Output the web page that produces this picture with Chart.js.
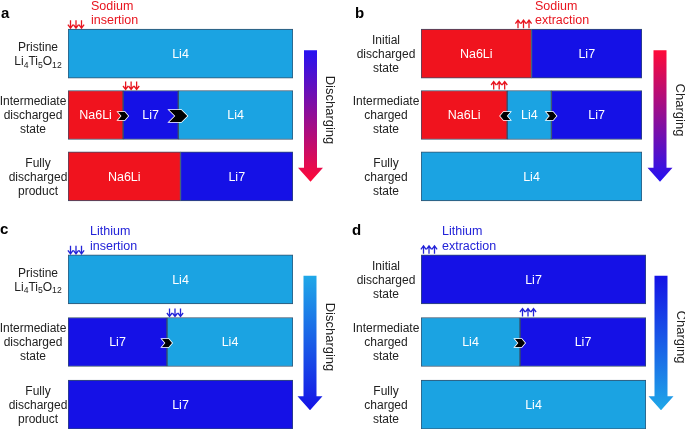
<!DOCTYPE html>
<html>
<head>
<meta charset="utf-8">
<script src="https://cdn.jsdelivr.net/npm/chart.js@4"></script>
<style>
  html, body { margin: 0; padding: 0; background: #fff; overflow: hidden; }
  canvas { position: absolute; }
</style>
</head>
<body>
<canvas id="panelA" width="342" height="214" style="left:0;top:0"></canvas>
<canvas id="panelB" width="343" height="214" style="left:342px;top:0"></canvas>
<canvas id="panelC" width="342" height="222" style="left:0;top:214px"></canvas>
<canvas id="panelD" width="343" height="222" style="left:342px;top:214px"></canvas>
<script>
// row labels ({n} = subscript)
const rowsA = [['Pristine', 'Li{4}Ti{5}O{12}'], ['Intermediate', 'discharged', 'state'], ['Fully', 'discharged', 'product']];
const rowsB = [['Initial', 'discharged', 'state'], ['Intermediate', 'charged', 'state'], ['Fully', 'charged', 'state']];
const rowsC = rowsA;
const rowsD = rowsB;

// phase fractions along each bar, left to right
const na6liA = [0, 0.245, 0.5];
const li7A = [0, 0.245, 0.5];
const li4A = [1, 0.51, 0];

const na6liB = [0.5, 0.39, 0];
const li4B = [0, 0.2, 1];
const li7B = [0.5, 0.41, 0];

const li7C = [0, 0.44, 1];
const li4C = [1, 0.56, 0];

const li4D = [0, 0.44, 1];
const li7D = [1, 0.56, 0];

const FONT = "'Liberation Sans', Arial, sans-serif";
const colors = { Na6Li: '#f0131e', Li7: '#1511e6', Li4: '#1ba3e2' };

function ds(label, data) {
  return {
    label: label,
    data: data,
    backgroundColor: colors[label],
    borderColor: '#35506b',
    borderWidth: 1,
    borderSkipped: false,
    barThickness: 49,
  };
}

function drawRichLine(ctx, text, cx, y, size) {
  const parts = [];
  text.split(/(\{[^}]*\})/).forEach(p => {
    if (!p) return;
    if (p[0] === '{') parts.push({ t: p.slice(1, -1), sub: true });
    else parts.push({ t: p, sub: false });
  });
  let w = 0;
  parts.forEach(p => {
    ctx.font = (p.sub ? size * 0.72 : size) + 'px ' + FONT;
    p.w = ctx.measureText(p.t).width;
    w += p.w;
  });
  let x = cx - w / 2;
  ctx.textAlign = 'left';
  parts.forEach(p => {
    ctx.font = (p.sub ? size * 0.72 : size) + 'px ' + FONT;
    ctx.fillText(p.t, x, p.sub ? y + size * 0.3 : y);
    x += p.w;
  });
}

function boundaryX(chart, row, after) {
  let s = 0;
  for (let i = 0; i <= after; i++) s += chart.data.datasets[i].data[row];
  return chart.scales.x.getPixelForValue(s);
}

function barBox(chart, row) {
  const el = chart.getDatasetMeta(0).data[row];
  return { top: el.y - 24.5, bottom: el.y + 24.5, y: el.y };
}

function chevron(ctx, cx, cy, w, h, dir) {
  ctx.save();
  ctx.translate(cx, cy);
  if (dir === 'left') ctx.scale(-1, 1);
  ctx.beginPath();
  ctx.moveTo(-w / 2, -h / 2);
  ctx.lineTo(w / 6, -h / 2);
  ctx.lineTo(w / 2, 0);
  ctx.lineTo(w / 6, h / 2);
  ctx.lineTo(-w / 2, h / 2);
  ctx.lineTo(-w / 6, 0);
  ctx.closePath();
  ctx.fillStyle = '#000';
  ctx.strokeStyle = '#fff';
  ctx.lineWidth = 1.6;
  ctx.lineJoin = 'miter';
  ctx.stroke();
  ctx.fill();
  ctx.restore();
}

function tinyArrows(ctx, x0, edgeY, side, dir, color) {
  ctx.save();
  ctx.strokeStyle = color;
  ctx.lineWidth = 1.3;
  for (let k = 0; k < 3; k++) {
    const x = side === 'right' ? x0 + 2.5 + k * 5.5 : x0 - 2.5 - k * 5.5;
    const a = edgeY - 1, b = edgeY - 9;
    ctx.beginPath();
    ctx.moveTo(x, a);
    ctx.lineTo(x, b);
    if (dir === 'down') {
      ctx.moveTo(x - 2.6, a - 3.5); ctx.lineTo(x, a); ctx.lineTo(x + 2.6, a - 3.5);
    } else {
      ctx.moveTo(x - 2.6, b + 3.5); ctx.lineTo(x, b); ctx.lineTo(x + 2.6, b + 3.5);
    }
    ctx.stroke();
  }
  ctx.restore();
}

const schematic = {
  id: 'schematic',
  afterDatasetsDraw(chart) {
    const ctx = chart.ctx;
    const o = chart.options.plugins.schematic;
    // phase names in each segment
    ctx.save();
    ctx.fillStyle = '#fff';
    ctx.font = '12.5px ' + FONT;
    ctx.textAlign = 'center';
    ctx.textBaseline = 'middle';
    chart.data.datasets.forEach((d, i) => {
      chart.getDatasetMeta(i).data.forEach((el, j) => {
        if (d.data[j] > 0) ctx.fillText(d.label, (el.base + el.x) / 2, el.y + 1);
      });
    });
    ctx.restore();
    // moving front chevrons
    o.chevrons.forEach(c => {
      const x = boundaryX(chart, c.row, c.after) + (c.dx || 0);
      chevron(ctx, x, barBox(chart, c.row).y + 1, c.w, c.h, c.dir);
    });
    // ion flux markers
    o.flux.forEach(f => {
      const x = boundaryX(chart, f.row, f.after);
      tinyArrows(ctx, x, barBox(chart, f.row).top, f.side, f.dir, o.noteColor);
    });
  },
  afterDraw(chart) {
    const ctx = chart.ctx;
    const o = chart.options.plugins.schematic;
    const ca = chart.chartArea;
    ctx.save();
    // row labels
    ctx.fillStyle = '#222';
    ctx.textBaseline = 'middle';
    o.rows.forEach((lines, j) => {
      const b = barBox(chart, j);
      const cx = ca.left + o.labelDx[j];
      const y0 = b.y + 1 - (lines.length - 1) * 7;
      lines.forEach((ln, k) => drawRichLine(ctx, ln, cx, y0 + k * 14, 12));
    });
    // panel letter
    ctx.font = 'bold 15px ' + FONT;
    ctx.textAlign = 'left';
    ctx.textBaseline = 'alphabetic';
    ctx.fillStyle = '#000';
    ctx.fillText(o.letter, o.letterX, barBox(chart, 0).top + o.letterDy);
    // note text
    ctx.fillStyle = o.noteColor;
    ctx.font = '12.5px ' + FONT;
    ctx.textBaseline = 'middle';
    const t0 = barBox(chart, 0).top;
    ctx.fillText(o.note[0], o.noteX, t0 - 23);
    ctx.fillText(o.note[1], o.noteX, t0 - 8.5);
    // process arrow
    const top = barBox(chart, 0).top + 21;
    const tip = barBox(chart, 2).bottom - 19;
    const cx = ca.right + o.arrowDx;
    const g = ctx.createLinearGradient(0, top, 0, tip);
    g.addColorStop(0, o.arrowColors[0]);
    g.addColorStop(1, o.arrowColors[1]);
    ctx.fillStyle = g;
    ctx.beginPath();
    ctx.moveTo(cx - 6.5, top);
    ctx.lineTo(cx + 6.5, top);
    ctx.lineTo(cx + 6.5, tip - 14);
    ctx.lineTo(cx + 12.5, tip - 14);
    ctx.lineTo(cx, tip);
    ctx.lineTo(cx - 12.5, tip - 14);
    ctx.lineTo(cx - 6.5, tip - 14);
    ctx.closePath();
    ctx.fill();
    ctx.translate(cx + 19.5, (top + tip) / 2 - 6);
    ctx.rotate(Math.PI / 2);
    ctx.fillStyle = '#222';
    ctx.font = '13px ' + FONT;
    ctx.textAlign = 'center';
    ctx.fillText(o.arrowLabel, 0, 0);
    ctx.restore();
  }
};

function makePanel(id, rows, datasets, padding, extra) {
  return new Chart(document.getElementById(id).getContext('2d'), {
    type: 'bar',
    data: { labels: rows.map(r => r.join(' ')), datasets: datasets },
    options: {
      indexAxis: 'y',
      responsive: false,
      animation: false,
      layout: { padding: padding },
      scales: {
        x: { stacked: true, min: 0, max: 1, display: false },
        y: { stacked: true, display: false },
      },
      plugins: {
        legend: { display: false },
        tooltip: { enabled: false },
        schematic: Object.assign({ rows: rows }, extra),
      },
    },
    plugins: [schematic],
  });
}

makePanel('panelA', rowsA,
  [ds('Na6Li', na6liA), ds('Li7', li7A), ds('Li4', li4A)],
  { left: 68, right: 49, top: 23, bottom: 7 },
  {
    letter: 'a', letterX: 1, letterDy: -11, labelDx: [-30, -35, -30],
    note: ['Sodium', 'insertion'], noteX: 91, noteColor: '#e8141e',
    arrowDx: 17.5, arrowColors: ['#2512f2', '#ff0a38'], arrowLabel: 'Discharging',
    chevrons: [{ row: 1, after: 0, dir: 'right', w: 10, h: 8 }, { row: 1, after: 1, dir: 'right', w: 18, h: 12 }],
    flux: [{ row: 0, after: -1, side: 'right', dir: 'down' }, { row: 1, after: 0, side: 'right', dir: 'down' }],
  });

makePanel('panelB', rowsB,
  [ds('Na6Li', na6liB), ds('Li4', li4B), ds('Li7', li7B)],
  { left: 79, right: 43, top: 23, bottom: 7 },
  {
    letter: 'b', letterX: 13, letterDy: -11, labelDx: [-35, -35, -35],
    note: ['Sodium', 'extraction'], noteX: 193, noteColor: '#e8141e',
    arrowDx: 18, arrowColors: ['#ff0a38', '#2512f2'], arrowLabel: 'Charging',
    chevrons: [{ row: 1, after: 0, dir: 'left', w: 10, h: 8, dx: -2 }, { row: 1, after: 1, dir: 'right', w: 10, h: 8 }],
    flux: [{ row: 0, after: 0, side: 'left', dir: 'up' }, { row: 1, after: 0, side: 'left', dir: 'up' }],
  });

makePanel('panelC', rowsC,
  [ds('Li7', li7C), ds('Li4', li4C)],
  { left: 68, right: 49, top: 34, bottom: 0 },
  {
    letter: 'c', letterX: 0, letterDy: -21, labelDx: [-30, -35, -30],
    note: ['Lithium', 'insertion'], noteX: 90, noteColor: '#2222d8',
    arrowDx: 17, arrowColors: ['#1fa8e8', '#1412e6'], arrowLabel: 'Discharging',
    chevrons: [{ row: 1, after: 0, dir: 'right', w: 10, h: 8 }],
    flux: [{ row: 0, after: -1, side: 'right', dir: 'down' }, { row: 1, after: 0, side: 'right', dir: 'down' }],
  });

makePanel('panelD', rowsD,
  [ds('Li4', li4D), ds('Li7', li7D)],
  { left: 79, right: 39, top: 34, bottom: 0 },
  {
    letter: 'd', letterX: 10, letterDy: -20, labelDx: [-35, -35, -35],
    note: ['Lithium', 'extraction'], noteX: 100, noteColor: '#2222d8',
    arrowDx: 15, arrowColors: ['#1412e6', '#1fa8e8'], arrowLabel: 'Charging',
    chevrons: [{ row: 1, after: 0, dir: 'right', w: 10, h: 8 }],
    flux: [{ row: 0, after: -1, side: 'right', dir: 'up' }, { row: 1, after: 0, side: 'right', dir: 'up' }],
  });
</script>
</body>
</html>
